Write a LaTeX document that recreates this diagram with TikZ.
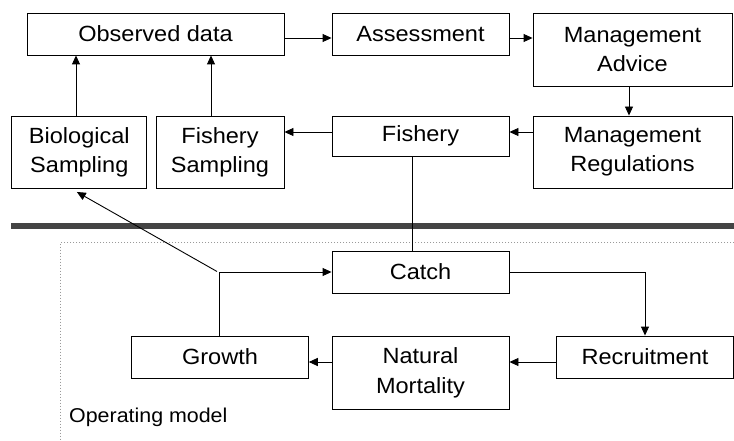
\documentclass[tikz,border=0pt]{standalone}
\usepackage{fontspec}
\setmainfont{Liberation Sans}[FakeStretch=1.07]
\usetikzlibrary{arrows.meta}
\definecolor{bar}{HTML}{444444}
\definecolor{dotgray}{HTML}{9A9A9A}
\begin{document}
\begin{tikzpicture}[x=1pt,y=-1pt,
  box/.style={draw, line width=0.9pt, rectangle, inner sep=0pt, align=center,
    font=\fontsize{22}{29.3}\selectfont},
  arr/.style={-{Triangle[length=9pt,width=8pt]}, line width=0.9pt},
  ln/.style={line width=0.9pt}]
\useasboundingbox (0,0) rectangle (734,441);
% separator bar and operating model frame
\fill[bar] (11,223.3) rectangle (734,229.3);
\draw[dotgray, dotted, line width=1pt] (734,242.7) -- (60,242.7) -- (60,441);
% upper nodes
\node[box, minimum width=257pt, minimum height=42pt] (obs) at (155.5,34) {Observed data};
\node[box, minimum width=177pt, minimum height=42pt] (assess) at (420.5,34) {Assessment};
\node[box, minimum width=199pt, minimum height=73pt] (advice) at (632.5,49.5) {Management\\Advice};
\node[box, minimum width=199pt, minimum height=72pt] (regs) at (632.5,152) {Management\\Regulations};
\node[box, minimum width=177pt, minimum height=40pt] (fishery) at (420.5,136) {Fishery};
\node[box, minimum width=135pt, minimum height=72pt] (bio) at (79.3,152) {Biological\\Sampling};
\node[box, minimum width=128pt, minimum height=72pt] (fsamp) at (220,152) {Fishery\\Sampling};
% lower nodes
\node[box, minimum width=177pt, minimum height=42pt] (catch) at (420.5,272) {Catch};
\node[box, minimum width=176.6pt, minimum height=42pt] (growth) at (220,357) {Growth};
\node[box, minimum width=177pt, minimum height=73pt] (natmort) at (420.5,372.7) {Natural\\Mortality};
\node[box, minimum width=177pt, minimum height=42pt] (recruit) at (645,357) {Recruitment};
\node[anchor=base west, inner sep=0pt, font=\fontsize{20}{24}\selectfont] (opm) at (69,422) {Operating model};
% connectors
\draw[arr] (obs.east |- 0,38) -- (assess.west |- 0,38);
\draw[arr] (assess.east |- 0,38) -- (advice.west |- 0,38);
\draw[arr] (advice.south -| 629,0) -- (regs.north -| 629,0);
\draw[arr] (regs.west |- 0,132) -- (fishery.east |- 0,132);
\draw[arr] (fishery.west |- 0,132) -- (fsamp.east |- 0,132);
\draw[arr] (bio.north -| 76,0) -- (obs.south -| 76,0);
\draw[arr] (fsamp.north -| 211,0) -- (obs.south -| 211,0);
\draw[ln] (fishery.south -| 412,0) -- (catch.north -| 412,0);
\draw[arr] (growth.north -| 219,0) |- (catch.west);
\coordinate (junc) at (217,271.5);
\draw[arr] (junc) -- ([xshift=-2.5pt,yshift=-3.5pt]bio.south);
\draw[arr] (catch.east) -| (recruit.north);
\draw[arr] (recruit.west |- 0,362) -- (natmort.east |- 0,362);
\draw[arr] (natmort.west |- 0,362) -- (growth.east |- 0,362);
\end{tikzpicture}
\end{document}
